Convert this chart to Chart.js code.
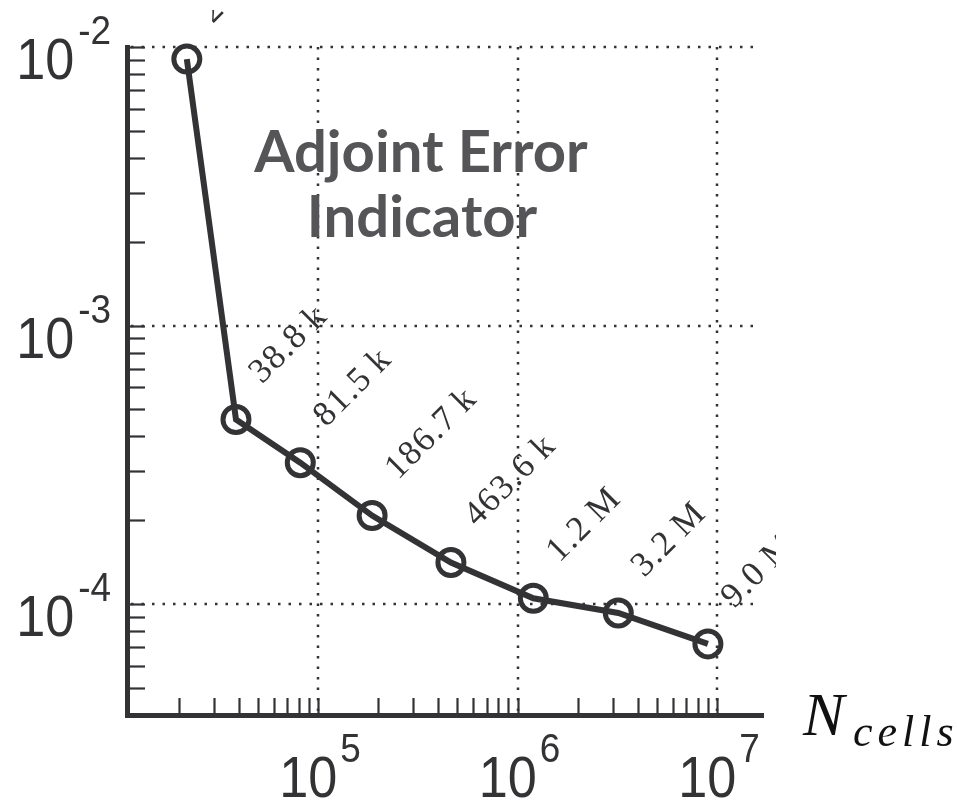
<!DOCTYPE html>
<html>
<head>
<meta charset="utf-8">
<title>Adjoint Error Indicator</title>
<script src="https://cdn.jsdelivr.net/npm/chart.js@4.4.1/dist/chart.umd.min.js"></script>
<style>
  body { margin: 0; background: #fff; }
  #wrap { width: 957px; height: 804px; }
</style>
</head>
<body>
<div id="wrap"><canvas id="errChart" width="957" height="804"></canvas></div>
<script>
// numero de celdas y error del indicador adjunto
const cells = [22000, 38800, 81500, 186700, 463600, 1200000, 3200000, 9000000];
const errors = [9.05e-3, 4.6e-4, 3.22e-4, 2.08e-4, 1.41e-4, 1.05e-4, 9.3e-5, 7.2e-5];
const cellLabels = ['22.0\u2009k', '38.8\u2009k', '81.5\u2009k', '186.7\u2009k', '463.6\u2009k', '1.2\u2009M', '3.2\u2009M', '9.0\u2009M'];
const xDecades = [5, 6, 7];
const yDecades = [-2, -3, -4];
const titleLines = ['Adjoint Error', 'Indicator'];

const INK = '#333336';
const SANS = '"Liberation Sans", Arimo, Helvetica, Arial, sans-serif';
const SERIF = '"Liberation Serif", Tinos, "Times New Roman", serif';

// dibuja "10" con exponente
function drawPow(ctx, cx, cy, exp, mode) {
    const base = '10';
    const sup = String(exp);
    const sx = 0.9;
    ctx.save();
    ctx.fillStyle = INK;
    ctx.textBaseline = 'alphabetic';
    ctx.textAlign = 'left';
    ctx.font = '58px ' + SANS;
    const wb = ctx.measureText(base).width * sx;
    ctx.font = '41px ' + SANS;
    const we = ctx.measureText(sup).width * sx;
    let x0, yb, ye;
    if (mode === 'y') {
        x0 = 111 - (wb + 4 + we);
        yb = cy + 32;
        ye = cy - 3;
    } else {
        x0 = cx - (wb + 3 + we) / 2 + 2;
        yb = 797;
        ye = 762;
    }
    ctx.save();
    ctx.translate(x0, yb);
    ctx.scale(sx, 1);
    ctx.font = '58px ' + SANS;
    ctx.fillText(base, 0, 0);
    ctx.restore();
    ctx.save();
    ctx.translate(x0 + wb + (mode === 'y' ? 4 : 3), ye);
    ctx.scale(sx, 1);
    ctx.font = '41px ' + SANS;
    ctx.fillText(sup, 0, 0);
    ctx.restore();
    ctx.restore();
}

const decor = {
    id: 'decor',
    beforeDatasetsDraw(chart) {
        const ctx = chart.ctx;
        const xs = chart.scales.x, ys = chart.scales.y;
        const a = chart.chartArea;
        ctx.save();
        ctx.strokeStyle = INK;
        ctx.lineWidth = 2.5;
        ctx.setLineDash([2.5, 8]);
        yDecades.forEach(d => {
            const y = Math.round(ys.getPixelForValue(Math.pow(10, d)));
            ctx.beginPath();
            ctx.moveTo(a.left + 4, y);
            ctx.lineTo(a.right - 2, y);
            ctx.stroke();
        });
        xDecades.forEach(d => {
            const x = Math.round(xs.getPixelForValue(Math.pow(10, d)));
            ctx.beginPath();
            ctx.moveTo(x, a.top);
            ctx.lineTo(x, a.bottom - 3);
            ctx.stroke();
        });
        ctx.setLineDash([]);

        // marcas menores
        ctx.lineWidth = 2.2;
        for (let d = 4; d <= 7; d++) {
            for (let m = 1; m <= 9; m++) {
                const v = m * Math.pow(10, d);
                if (v < xs.min || v > xs.max) continue;
                const x = Math.round(xs.getPixelForValue(v)) + 0.5;
                ctx.beginPath();
                ctx.moveTo(x, a.bottom);
                ctx.lineTo(x, a.bottom - 17);
                ctx.stroke();
            }
        }
        for (let d = -5; d <= -2; d++) {
            for (let m = 1; m <= 9; m++) {
                const v = m * Math.pow(10, d);
                if (v < ys.min || v > ys.max * 1.001) continue;
                const y = Math.round(ys.getPixelForValue(v)) + 0.5;
                ctx.beginPath();
                ctx.moveTo(a.left, y);
                ctx.lineTo(a.left + 18, y);
                ctx.stroke();
            }
        }

        // titulo
        ctx.fillStyle = '#555558';
        ctx.font = 'bold 58px Lato, "Open Sans", sans-serif';
        ctx.textAlign = 'center';
        ctx.textBaseline = 'alphabetic';
        ctx.fillText(titleLines[0], 421, 172);
        ctx.fillText(titleLines[1], 422, 237);
        ctx.restore();
    },
    afterDatasetsDraw(chart) {
        const ctx = chart.ctx;
        const xs = chart.scales.x, ys = chart.scales.y;
        // etiquetas de puntos, rotadas
        ctx.save();
        ctx.beginPath();
        ctx.rect(0, 10, 776, 794);
        ctx.clip();
        ctx.fillStyle = INK;
        ctx.font = '35px ' + SERIF;
        ctx.letterSpacing = '1.5px';
        ctx.textAlign = 'left';
        ctx.textBaseline = 'alphabetic';
        cells.forEach((c, i) => {
            const px = xs.getPixelForValue(c);
            const py = ys.getPixelForValue(errors[i]);
            ctx.save();
            ctx.translate(px + 26, py - 35);
            ctx.rotate(-Math.PI / 4);
            ctx.fillText(cellLabels[i], 0, 0);
            ctx.restore();
        });
        ctx.restore();

        // etiquetas de ejes
        yDecades.forEach(d => drawPow(ctx, 0, ys.getPixelForValue(Math.pow(10, d)), d, 'y'));
        xDecades.forEach(d => drawPow(ctx, xs.getPixelForValue(Math.pow(10, d)), 0, d, 'x'));

        // N_cells
        ctx.save();
        ctx.fillStyle = '#111';
        ctx.textAlign = 'left';
        ctx.textBaseline = 'alphabetic';
        ctx.font = 'italic 62px ' + SERIF;
        ctx.fillText('N', 803, 735);
        ctx.font = 'italic 44px ' + SERIF;
        ctx.letterSpacing = '5px';
        ctx.fillText('cells', 853, 746);
        ctx.restore();
    }
};

const ctx = document.getElementById('errChart').getContext('2d');
const chart = new Chart(ctx, {
    type: 'scatter',
    data: {
        datasets: [{
            label: 'Adjoint Error Indicator',
            data: cells.map((c, i) => ({ x: c, y: errors[i] })),
            showLine: true,
            borderColor: INK,
            borderWidth: 6,
            pointRadius: 13,
            pointHoverRadius: 13,
            pointBorderWidth: 5,
            pointBorderColor: INK,
            pointBackgroundColor: 'rgba(0,0,0,0)',
            tension: 0,
            clip: false
        }]
    },
    options: {
        responsive: false,
        animation: false,
        events: [],
        layout: { padding: { left: 127, right: 194, top: 47, bottom: 89 } },
        plugins: { legend: { display: false }, tooltip: { enabled: false } },
        scales: {
            x: {
                type: 'logarithmic',
                min: 11030,
                max: 1.7e7,
                ticks: { display: false },
                grid: { display: true, drawOnChartArea: false, drawTicks: false },
                border: { display: true, color: INK, width: 5 }
            },
            y: {
                type: 'logarithmic',
                min: 4e-5,
                max: 1e-2,
                ticks: { display: false },
                grid: { display: true, drawOnChartArea: false, drawTicks: false },
                border: { display: true, color: INK, width: 5 }
            }
        }
    },
    plugins: [decor]
});
</script>
</body>
</html>
